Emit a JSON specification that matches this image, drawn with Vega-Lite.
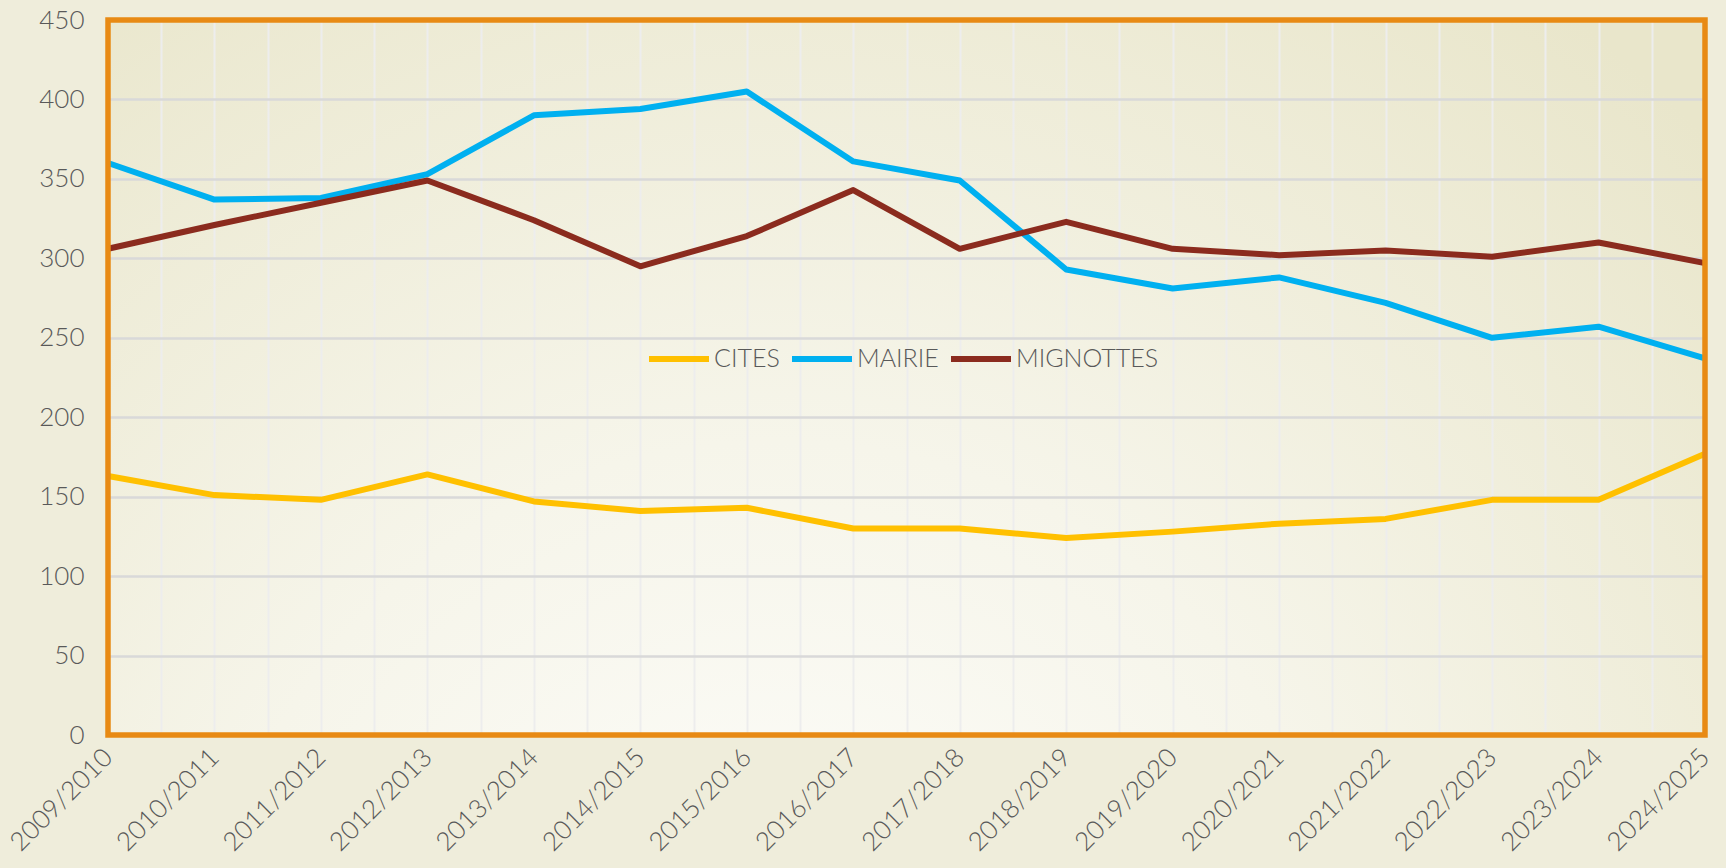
{
  "$schema": "https://vega.github.io/schema/vega-lite/v6.json",
  "width": 1597,
  "height": 715,
  "autosize": "none",
  "padding": {"left": 108, "top": 20, "right": 21, "bottom": 133},
  "background": "#EFEDDB",
  "config": {
    "font": "Lato"
  },
  "view": {
    "fill": {"gradient": "radial", "x1": 0.42, "y1": 0.9, "r1": 0, "x2": 0.42, "y2": 0.9, "r2": 0.8,
      "stops": [{"offset": 0, "color": "#FEFEFC"}, {"offset": 0.45, "color": "#F6F5EA"}, {"offset": 1, "color": "#E9E6CB"}]},
    "stroke": null
  },
  "data": {"values": [
    {"i": 0, "saison": "2009/2010", "ecole": "CITES", "n": 163},
    {"i": 1, "saison": "2010/2011", "ecole": "CITES", "n": 151},
    {"i": 2, "saison": "2011/2012", "ecole": "CITES", "n": 148},
    {"i": 3, "saison": "2012/2013", "ecole": "CITES", "n": 164},
    {"i": 4, "saison": "2013/2014", "ecole": "CITES", "n": 147},
    {"i": 5, "saison": "2014/2015", "ecole": "CITES", "n": 141},
    {"i": 6, "saison": "2015/2016", "ecole": "CITES", "n": 143},
    {"i": 7, "saison": "2016/2017", "ecole": "CITES", "n": 130},
    {"i": 8, "saison": "2017/2018", "ecole": "CITES", "n": 130},
    {"i": 9, "saison": "2018/2019", "ecole": "CITES", "n": 124},
    {"i": 10, "saison": "2019/2020", "ecole": "CITES", "n": 128},
    {"i": 11, "saison": "2020/2021", "ecole": "CITES", "n": 133},
    {"i": 12, "saison": "2021/2022", "ecole": "CITES", "n": 136},
    {"i": 13, "saison": "2022/2023", "ecole": "CITES", "n": 148},
    {"i": 14, "saison": "2023/2024", "ecole": "CITES", "n": 148},
    {"i": 15, "saison": "2024/2025", "ecole": "CITES", "n": 177},
    {"i": 0, "saison": "2009/2010", "ecole": "MAIRIE", "n": 360},
    {"i": 1, "saison": "2010/2011", "ecole": "MAIRIE", "n": 337},
    {"i": 2, "saison": "2011/2012", "ecole": "MAIRIE", "n": 338},
    {"i": 3, "saison": "2012/2013", "ecole": "MAIRIE", "n": 353},
    {"i": 4, "saison": "2013/2014", "ecole": "MAIRIE", "n": 390},
    {"i": 5, "saison": "2014/2015", "ecole": "MAIRIE", "n": 394},
    {"i": 6, "saison": "2015/2016", "ecole": "MAIRIE", "n": 405},
    {"i": 7, "saison": "2016/2017", "ecole": "MAIRIE", "n": 361},
    {"i": 8, "saison": "2017/2018", "ecole": "MAIRIE", "n": 349},
    {"i": 9, "saison": "2018/2019", "ecole": "MAIRIE", "n": 293},
    {"i": 10, "saison": "2019/2020", "ecole": "MAIRIE", "n": 281},
    {"i": 11, "saison": "2020/2021", "ecole": "MAIRIE", "n": 288},
    {"i": 12, "saison": "2021/2022", "ecole": "MAIRIE", "n": 272},
    {"i": 13, "saison": "2022/2023", "ecole": "MAIRIE", "n": 250},
    {"i": 14, "saison": "2023/2024", "ecole": "MAIRIE", "n": 257},
    {"i": 15, "saison": "2024/2025", "ecole": "MAIRIE", "n": 237},
    {"i": 0, "saison": "2009/2010", "ecole": "MIGNOTTES", "n": 306},
    {"i": 1, "saison": "2010/2011", "ecole": "MIGNOTTES", "n": 321},
    {"i": 2, "saison": "2011/2012", "ecole": "MIGNOTTES", "n": 335},
    {"i": 3, "saison": "2012/2013", "ecole": "MIGNOTTES", "n": 349},
    {"i": 4, "saison": "2013/2014", "ecole": "MIGNOTTES", "n": 324},
    {"i": 5, "saison": "2014/2015", "ecole": "MIGNOTTES", "n": 295},
    {"i": 6, "saison": "2015/2016", "ecole": "MIGNOTTES", "n": 314},
    {"i": 7, "saison": "2016/2017", "ecole": "MIGNOTTES", "n": 343},
    {"i": 8, "saison": "2017/2018", "ecole": "MIGNOTTES", "n": 306},
    {"i": 9, "saison": "2018/2019", "ecole": "MIGNOTTES", "n": 323},
    {"i": 10, "saison": "2019/2020", "ecole": "MIGNOTTES", "n": 306},
    {"i": 11, "saison": "2020/2021", "ecole": "MIGNOTTES", "n": 302},
    {"i": 12, "saison": "2021/2022", "ecole": "MIGNOTTES", "n": 305},
    {"i": 13, "saison": "2022/2023", "ecole": "MIGNOTTES", "n": 301},
    {"i": 14, "saison": "2023/2024", "ecole": "MIGNOTTES", "n": 310},
    {"i": 15, "saison": "2024/2025", "ecole": "MIGNOTTES", "n": 297}
  ]},
  "layer": [
    {
      "mark": {"type": "line", "strokeWidth": 6, "strokeJoin": "round"},
      "encoding": {
        "x": {
          "field": "i", "type": "quantitative",
          "scale": {"domain": [0, 15], "nice": false, "zero": false},
          "axis": {
            "title": null,
            "values": [0, 0.5, 1, 1.5, 2, 2.5, 3, 3.5, 4, 4.5, 5, 5.5, 6, 6.5, 7, 7.5, 8, 8.5, 9, 9.5, 10, 10.5, 11, 11.5, 12, 12.5, 13, 13.5, 14, 14.5, 15],
            "labelExpr": "datum.value % 1 == 0 ? ['2009/2010','2010/2011','2011/2012','2012/2013','2013/2014','2014/2015','2015/2016','2016/2017','2017/2018','2018/2019','2019/2020','2020/2021','2021/2022','2022/2023','2023/2024','2024/2025'][datum.value] : ''",
            "labelAngle": -45,
            "labelAlign": "right",
            "labelBaseline": "middle",
            "labelPadding": 18,
            "labelFontSize": 26,
            "labelFontWeight": 300,
            "labelColor": "#595959",
            "labelOverlap": false,
            "labelBound": false,
            "labelFlush": false,
            "ticks": false,
            "domain": false,
            "grid": true,
            "gridColor": "#EDEDED",
            "gridWidth": 2,
            "gridOpacity": 1
          }
        },
        "y": {
          "field": "n", "type": "quantitative",
          "scale": {"domain": [0, 450], "nice": false},
          "axis": {
            "title": null,
            "values": [0, 50, 100, 150, 200, 250, 300, 350, 400, 450],
            "labelFontSize": 26,
            "labelFontWeight": 300,
            "labelColor": "#595959",
            "labelPadding": 24,
            "ticks": false,
            "domain": false,
            "grid": true,
            "gridColor": "#D9D9D9",
            "gridWidth": 2.5,
            "gridOpacity": 1
          }
        },
        "color": {
          "field": "ecole", "type": "nominal",
          "scale": {"domain": ["CITES", "MAIRIE", "MIGNOTTES"], "range": ["#FFC000", "#00B0F0", "#8B2B1E"]},
          "legend": {
            "title": null,
            "orient": "none",
            "direction": "horizontal",
            "gridAlign": "none",
            "legendX": 538,
            "legendY": 306,
            "symbolType": "stroke",
            "symbolSize": 3600,
            "symbolStrokeWidth": 6,
            "labelFontSize": 25,
            "labelFontWeight": 300,
            "labelColor": "#595959",
            "labelOffset": 2,
            "columnPadding": 0
          }
        }
      }
    },
    {
      "data": {"values": [{"cadre": "plot"}]},
      "mark": {"type": "rect", "fill": null, "fillOpacity": 0, "stroke": "#E88A14", "strokeWidth": 5.5}
    }
  ]
}
